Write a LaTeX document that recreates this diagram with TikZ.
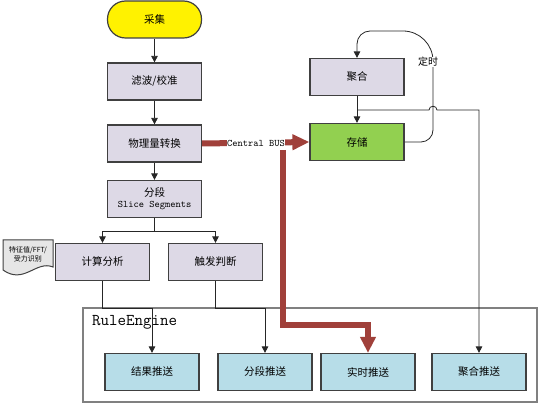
\documentclass[tikz,border=0pt]{standalone}
\usepackage{fontspec}
\setmainfont{Noto Sans CJK SC}
\setmonofont{Latin Modern Mono}
\usetikzlibrary{arrows.meta}
\definecolor{boxfill}{RGB}{221,217,230}
\definecolor{boxline}{RGB}{64,64,64}
\definecolor{busred}{RGB}{160,64,58}
\definecolor{grn}{RGB}{146,208,80}
\definecolor{blu}{RGB}{183,221,232}
\definecolor{docfill}{RGB}{230,230,230}
\tikzset{
  box/.style={draw=boxline, line width=1.2pt, fill=boxfill, minimum width=94pt, minimum height=37pt, inner sep=1pt, font=\fontsize{10.5}{12}\selectfont, align=center},
  pushbox/.style={box, fill=blu},
  conn/.style={line width=0.8pt, draw=black!85},
  arr/.style={conn, -{Triangle[length=6.5pt,width=6.5pt]}},
  bus/.style={line width=6pt, draw=busred, -{Triangle[length=17pt,width=15pt]}},
}
\begin{document}
\begin{tikzpicture}[x=1pt,y=-1pt]
\useasboundingbox (0,0) rectangle (539,403);
% RuleEngine frame
\draw[draw=black!50, line width=2pt] (83,308) rectangle (537,402);
\node[anchor=north west, inner sep=0pt, font=\ttfamily\fontsize{16.5}{18}\selectfont] (re) at (92,315) {RuleEngine};
% left column
\node[box, fill=yellow, rounded corners=18pt] (caiji) at (154.5,19.5) {采集};
\node[box] (lvbo) at (154.5,81.5) {滤波/校准};
\node[box] (wuli) at (154.5,143.5) {物理量转换};
\node[box] (fenduan) at (154.5,199) {分段\\[-1pt]{\ttfamily\fontsize{10}{11}\selectfont Slice Segments}};
\node[box] (jisuan) at (102.5,262) {计算分析};
\node[box] (chufa) at (215.5,262) {触发判断};
% document shape
\draw[draw=boxline, line width=1pt, fill=docfill] (3,240) -- (53,240) -- (53,267) .. controls (36,260) and (24,285) .. (3,270) -- cycle;
\node[align=center, inner sep=0pt, font=\fontsize{7}{9}\selectfont] (doc) at (28,254) {特征值/FFT/\\受力识别};
% right column
\node[box] (juhe) at (357,77) {聚合};
\node[box, fill=grn] (cunchu) at (357,142) {存储};
% push boxes
\node[pushbox] (jieguo) at (152,372) {结果推送};
\node[pushbox] (fdts) at (265,372) {分段推送};
\node[pushbox] (ssts) at (368,372) {实时推送};
\node[pushbox] (jhts) at (479,372) {聚合推送};
% vertical chain
\draw[arr] (caiji) -- (lvbo);
\draw[arr] (lvbo) -- (wuli);
\draw[arr] (wuli) -- (fenduan);
\draw[conn] (fenduan.south) -- (154.5,231);
\draw[arr] (154.5,231) -| (jisuan.north);
\draw[arr] (154.5,231) -| (chufa.north);
\draw[arr] (jisuan.south) |- (152,308) -- (jieguo.north);
\draw[arr] (chufa.south) |- (265,308) -- (fdts.north);
% aggregation
\draw[arr] (juhe) -- (cunchu);
\draw[arr] (357,110) -- (429,110) .. controls (429,105) and (437,105) .. (437,110) -| (jhts.north);
% timer loop
\draw[arr] (cunchu.east) [rounded corners=12pt] -- (433,142) [rounded corners=30pt] -- (433,31) [rounded corners=13pt] -- (357,31) [sharp corners] -- (juhe.north);
\node[fill=white, inner sep=0.5pt, font=\fontsize{10}{12}\selectfont] (dingshi) at (428,62) {定时};
% central bus
\draw[bus] (wuli.east) -- (cunchu.west);
\node[fill=white, inner sep=0.5pt, font=\ttfamily\fontsize{10}{11}\selectfont] (busl) at (256,143) {Central BUS};
\coordinate (busb) at (283,150);
\draw[bus, -{Triangle[length=16pt,width=15pt]}] (busb) -- (283,325) -- (368,325) -- (ssts.north);
\end{tikzpicture}
\end{document}
